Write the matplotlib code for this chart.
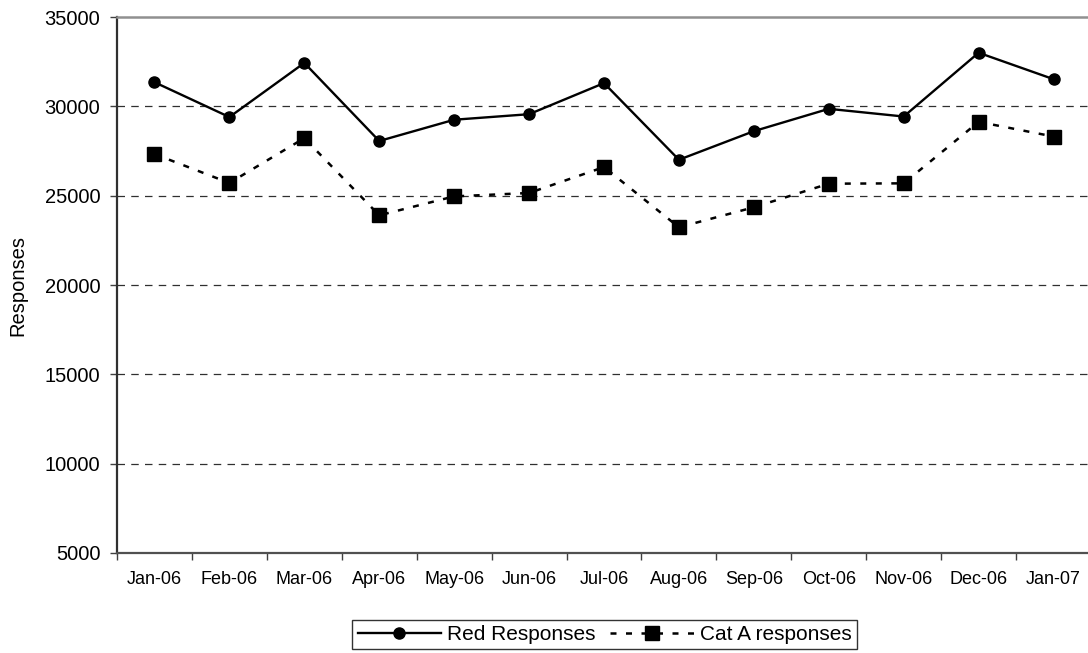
import matplotlib
matplotlib.use("Agg")
import matplotlib.pyplot as plt
from matplotlib.ticker import FixedLocator

plt.rcParams['font.family'] = ['Liberation Sans', 'DejaVu Sans']

months = ["Jan-06", "Feb-06", "Mar-06", "Apr-06", "May-06", "Jun-06", "Jul-06",
          "Aug-06", "Sep-06", "Oct-06", "Nov-06", "Dec-06", "Jan-07"]
red_responses = [31350, 29400, 32430, 28060, 29250, 29560, 31300,
                 27010, 28610, 29860, 29430, 33000, 31520]
cat_a_responses = [27330, 25710, 28220, 23900, 24960, 25150, 26600,
                   23230, 24350, 25670, 25690, 29130, 28310]
y_ticks = [5000, 10000, 15000, 20000, 25000, 30000, 35000]

W, H = 1088, 653
fig = plt.figure(figsize=(W / 100, H / 100), dpi=100)
ax = fig.add_axes([117 / W, (H - 553) / H, (1091 - 117) / W, (553 - 17) / H])

x = list(range(len(months)))
ax.plot(x, red_responses, color='black', lw=1.7, marker='o', markersize=8,
        label='Red Responses', zorder=3)
ax.plot(x, cat_a_responses, color='black', lw=1.8, linestyle=(0, (2.4, 3.8)),
        marker='s', markersize=10, label='Cat A responses', zorder=3)

ax.set_xlim(-0.5, len(months) - 0.5)
ax.set_ylim(5000, 35000)

ax.yaxis.set_major_locator(FixedLocator(y_ticks))
ax.set_yticklabels([str(v) for v in y_ticks])
ax.tick_params(axis='y', direction='out', length=5, width=1, pad=7,
               labelsize=14.5, color='#404040')

ax.set_xticks(x)
ax.set_xticklabels(months)
ax.set_xticks([i - 0.5 for i in range(len(months) + 1)], minor=True)
ax.tick_params(axis='x', which='major', length=0, pad=13, labelsize=13)
ax.tick_params(axis='x', which='minor', direction='out', length=5, width=1,
               color='#404040')

for v in [10000, 15000, 20000, 25000, 30000]:
    ax.axhline(v, color='#303030', lw=0.9, linestyle=(0, (6, 5)), zorder=1)

ax.spines['left'].set_color('#303030')
ax.spines['left'].set_linewidth(1.6)
ax.spines['bottom'].set_color('#505050')
ax.spines['bottom'].set_linewidth(1.6)
ax.spines['top'].set_color('#909090')
ax.spines['top'].set_linewidth(1.8)
ax.spines['right'].set_color('#909090')
ax.spines['right'].set_linewidth(1.8)

fig.text(18 / W, 1 - 285 / H, "Responses", rotation=90, ha='center',
         va='center', fontsize=14.5)

leg = fig.legend(loc='center', bbox_to_anchor=(604.5 / W, 1 - 634.5 / H),
                 ncol=2, frameon=True, fancybox=False, shadow=False,
                 fontsize=15, handlelength=4.0, handletextpad=0.3,
                 columnspacing=0.7, borderpad=0.25, borderaxespad=0,
                 numpoints=1)
leg.get_frame().set_edgecolor('black')
leg.get_frame().set_linewidth(1.0)

fig.savefig("out.png", dpi=100)
